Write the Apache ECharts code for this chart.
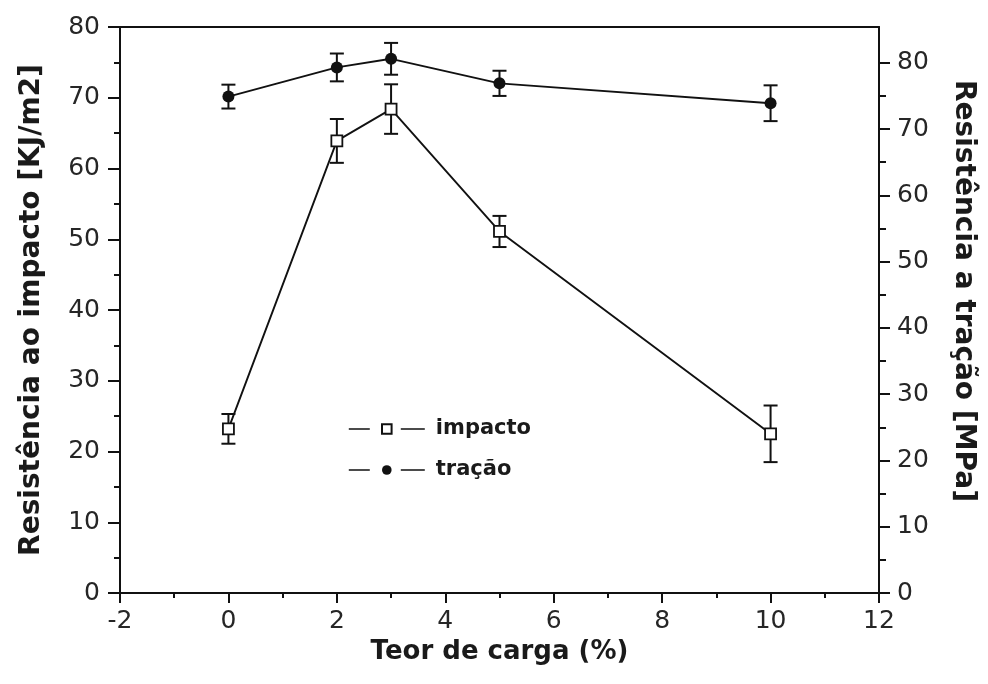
<!DOCTYPE html>
<html>
<head>
<meta charset="utf-8">
<script src="https://cdn.jsdelivr.net/npm/echarts@6/dist/echarts.min.js"></script>
<style>
  html, body { margin: 0; padding: 0; background: #fff; }
  #chart { width: 988px; height: 684px; }
</style>
</head>
<body>
<div id="chart"></div>
<script>
// Filler content (%) on the x axis
const cargas = [0, 2, 3, 5, 10];
// Impact strength [KJ/m2] and its standard deviation
const impacto = [23.2, 63.9, 68.4, 51.1, 22.5];
const impactoErr = [2.1, 3.1, 3.5, 2.2, 4.0];
// Tensile strength [MPa] and its standard deviation
const tracao = [74.9, 79.3, 80.6, 76.9, 73.9];
const tracaoErr = [1.8, 2.1, 2.4, 1.9, 2.7];
// Tick values
const xTicks = [-2, 0, 2, 4, 6, 8, 10, 12];
const leftTicks = [0, 10, 20, 30, 40, 50, 60, 70, 80];
const rightTicks = [0, 10, 20, 30, 40, 50, 60, 70, 80];
const rightMinor = [5, 15, 25, 35, 45, 55, 65, 75];

const INK = '#111';
const LABEL = '#262626';
const FONT = 'DejaVu Sans';

const pairs = (xs, ys) => xs.map((x, i) => [x, ys[i]]);
const errRows = (xs, ys, es) => xs.map((x, i) => [x, ys[i] - es[i], ys[i] + es[i]]);

// Vertical error bar with short caps
function renderErr(params, api) {
  const x = api.value(0);
  const lo = api.coord([x, api.value(1)]);
  const hi = api.coord([x, api.value(2)]);
  const cap = 7;
  const style = { stroke: INK, lineWidth: 2 };
  return {
    type: 'group',
    children: [
      { type: 'line', shape: { x1: lo[0], y1: lo[1], x2: hi[0], y2: hi[1] }, style },
      { type: 'line', shape: { x1: hi[0] - cap, y1: hi[1], x2: hi[0] + cap, y2: hi[1] }, style },
      { type: 'line', shape: { x1: lo[0] - cap, y1: lo[1], x2: lo[0] + cap, y2: lo[1] }, style }
    ]
  };
}

const axisLine = { show: true, onZero: false, lineStyle: { color: INK, width: 2 } };
const tickLabel = { color: LABEL, fontFamily: FONT, fontSize: 25 };

const option = {
  animation: false,
  backgroundColor: '#fff',
  grid: { left: 120, right: 109, top: 27, bottom: 91, containLabel: false },
  legend: {
    data: ['impacto', 'tração'],
    orient: 'vertical',
    left: 348,
    top: 418,
    padding: 0,
    itemWidth: 76,
    itemHeight: 12,
    itemGap: 19,
    lineStyle: { type: [21, 31, 24, 31], width: 1.6, color: INK },
    textStyle: { color: '#1a1a1a', fontFamily: FONT, fontWeight: 'bold', fontSize: 21, lineHeight: 22, padding: [0, 0, 0, 6] }
  },
  xAxis: [
    {
      type: 'value', position: 'bottom', min: -2, max: 12, interval: 2,
      axisLine,
      axisTick: { show: true, length: 10, lineStyle: { color: INK, width: 2 } },
      minorTick: { show: true, splitNumber: 2, length: 5, lineStyle: { color: INK, width: 2 } },
      splitLine: { show: false },
      axisLabel: Object.assign({ margin: 16, customValues: xTicks }, tickLabel),
      name: 'Teor de carga (%)',
      nameLocation: 'middle',
      nameGap: 46,
      nameTextStyle: { color: '#1a1a1a', fontFamily: FONT, fontWeight: 'bold', fontSize: 26 }
    },
    {
      type: 'value', position: 'top', min: -2, max: 12,
      axisLine, axisTick: { show: false }, axisLabel: { show: false }, splitLine: { show: false }
    }
  ],
  yAxis: [
    {
      type: 'value', position: 'left', min: 0, max: 80, interval: 10,
      axisLine,
      axisTick: { show: true, length: 12, lineStyle: { color: INK, width: 2 } },
      minorTick: { show: true, splitNumber: 2, length: 6, lineStyle: { color: INK, width: 2 } },
      splitLine: { show: false },
      axisLabel: Object.assign({ margin: 20, customValues: leftTicks }, tickLabel),
      name: 'Resistência ao impacto [KJ/m2]',
      nameLocation: 'middle',
      nameGap: 74,
      nameTextStyle: { color: '#1a1a1a', fontFamily: FONT, fontWeight: 'bold', fontSize: 28 }
    },
    {
      type: 'value', position: 'right', min: 0, max: 85.4, interval: 10,
      axisLine,
      axisTick: { show: true, length: 11, customValues: rightTicks, lineStyle: { color: INK, width: 2 } },
      splitLine: { show: false },
      axisLabel: Object.assign({ margin: 18, customValues: rightTicks }, tickLabel),
      name: 'Resistência a tração [MPa]',
      nameLocation: 'middle',
      nameRotate: -90,
      nameGap: 70,
      nameTextStyle: { color: '#1a1a1a', fontFamily: FONT, fontWeight: 'bold', fontSize: 28, padding: [0, 38, 0, 0] }
    },
    {
      // minor ticks of the right-hand axis
      type: 'value', position: 'right', min: 0, max: 85.4,
      axisLine: { show: false, onZero: false },
      axisTick: { show: true, length: 7, customValues: rightMinor, lineStyle: { color: INK, width: 2 } },
      axisLabel: { show: false },
      splitLine: { show: false }
    }
  ],
  series: [
    {
      name: 'impacto-err', type: 'custom', xAxisIndex: 0, yAxisIndex: 0, z: 1,
      renderItem: renderErr, data: errRows(cargas, impacto, impactoErr)
    },
    {
      name: 'tração-err', type: 'custom', xAxisIndex: 0, yAxisIndex: 1, z: 1,
      renderItem: renderErr, data: errRows(cargas, tracao, tracaoErr)
    },
    {
      name: 'impacto', type: 'line', xAxisIndex: 0, yAxisIndex: 0, z: 3,
      data: pairs(cargas, impacto),
      symbol: 'rect', symbolSize: 11,
      lineStyle: { color: INK, width: 1.9 },
      itemStyle: { color: '#fff', borderColor: INK, borderWidth: 1.8 }
    },
    {
      name: 'tração', type: 'line', xAxisIndex: 0, yAxisIndex: 1, z: 3,
      data: pairs(cargas, tracao),
      symbol: 'circle', symbolSize: 12,
      lineStyle: { color: INK, width: 1.9 },
      itemStyle: { color: INK, borderColor: INK, borderWidth: 0 }
    }
  ]
};

const chart = echarts.init(document.getElementById('chart'), null, { renderer: 'canvas' });
chart.setOption(option);
</script>
</body>
</html>
